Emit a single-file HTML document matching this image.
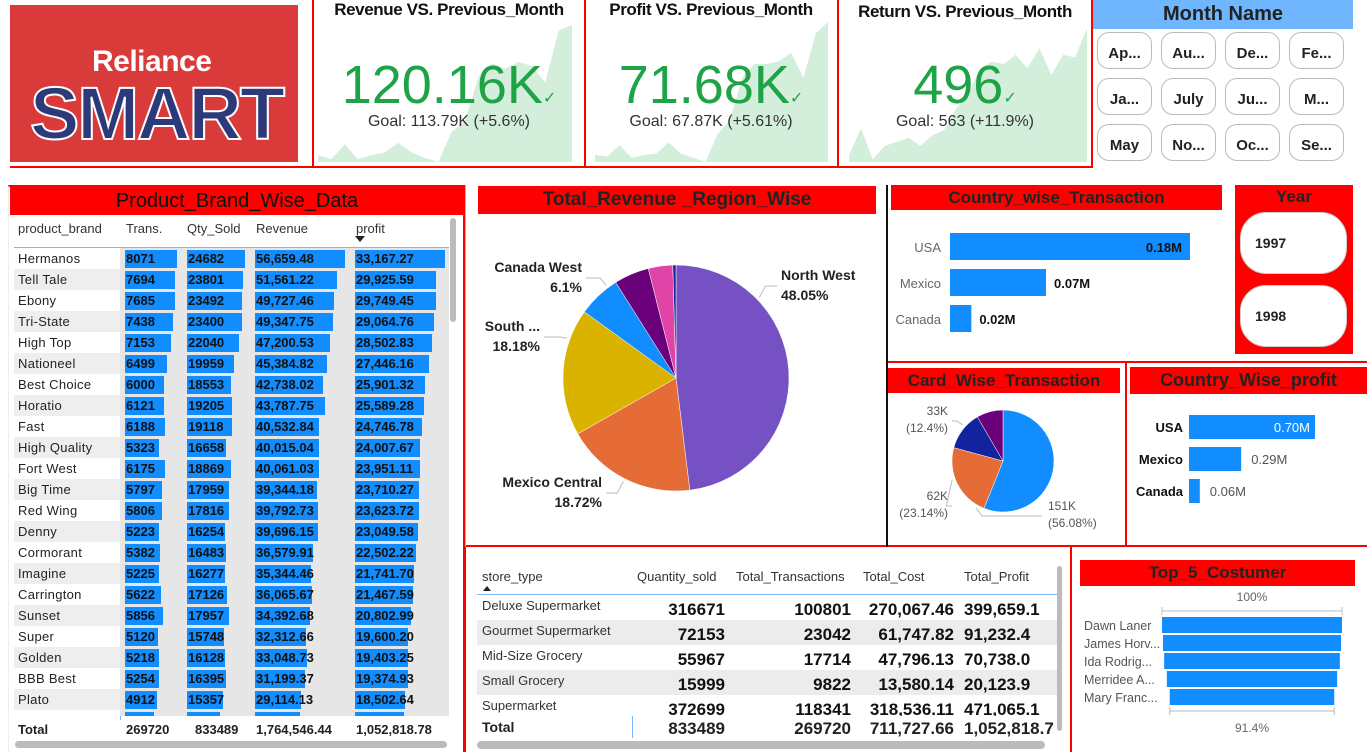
<!DOCTYPE html>
<html><head><meta charset="utf-8">
<style>
*{box-sizing:border-box;margin:0;padding:0}
body{width:1367px;height:752px;overflow:hidden;background:#fff;font-family:"Liberation Sans",sans-serif;position:relative;color:#222}
.a{position:absolute}
.title{position:absolute;background:#f00;color:#222;font-family:"Liberation Sans Narrow","Liberation Sans",sans-serif;font-weight:bold;text-align:center;white-space:nowrap}
.rl{position:absolute;background:#f00}
.kt{position:absolute;font-weight:bold;font-size:17px;letter-spacing:-0.4px;color:#111;white-space:nowrap;text-align:center}
.kv{position:absolute;color:#1ea447;font-size:54px;text-align:center;white-space:nowrap}
.kg{position:absolute;font-size:16px;color:#333;text-align:center;white-space:nowrap}
.mb{position:absolute;width:55px;height:37px;border:1px solid #bbb;border-radius:12px;background:#fff;font-weight:bold;font-size:15px;text-align:center;line-height:42px}
.cell{position:absolute;font-size:13px;white-space:nowrap}
</style></head><body>

<!-- logo -->
<div class="a" style="left:10px;top:5px;width:288px;height:157px;background:#d93a3a">
  <div class="a" style="left:82px;top:40px;color:#fff;font-weight:bold;font-size:30px;letter-spacing:-0.5px">Reliance</div>
  <div class="a" style="left:20px;top:66px;color:#2c3a7a;font-weight:bold;font-size:74px;letter-spacing:-2px;-webkit-text-stroke:2px #fff">SMART</div>
</div>

<!-- KPI frame lines -->
<div class="rl" style="left:10px;top:166px;width:1082px;height:2px"></div>
<div class="rl" style="left:312px;top:0;width:2px;height:168px"></div>
<div class="rl" style="left:584px;top:0;width:2px;height:168px"></div>
<div class="rl" style="left:837px;top:0;width:2px;height:168px"></div>
<div class="rl" style="left:1091px;top:0;width:2px;height:168px"></div>

<svg class="a" style="left:0;top:0" width="1367" height="170" id="spark"></svg>

<div class="kt" style="left:316px;top:0;width:266px">Revenue VS. Previous_Month</div>
<div class="kv" style="left:316px;top:54px;width:266px">120.16K<span style="font-size:16px">✓</span></div>
<div class="kg" style="left:316px;top:113px;width:266px">Goal: 113.79K (+5.6%)</div>

<div class="kt" style="left:588px;top:0;width:246px">Profit VS. Previous_Month</div>
<div class="kv" style="left:588px;top:54px;width:246px">71.68K<span style="font-size:16px">✓</span></div>
<div class="kg" style="left:588px;top:113px;width:246px">Goal: 67.87K (+5.61%)</div>

<div class="kt" style="left:841px;top:2px;width:248px">Return VS. Previous_Month</div>
<div class="kv" style="left:841px;top:54px;width:248px">496<span style="font-size:16px">✓</span></div>
<div class="kg" style="left:841px;top:113px;width:248px">Goal: 563 (+11.9%)</div>

<!-- month slicer -->
<div class="a" style="left:1093px;top:0;width:260px;height:29px;background:#6fb6ff;text-align:center;font-weight:bold;font-size:20px;line-height:29px;font-family:'Liberation Sans Narrow','Liberation Sans',sans-serif">Month Name</div>
<div id="months"></div>

<!-- product brand table -->
<div class="a" style="left:8px;top:185px;width:457px;height:567px;border:2px solid #f00;border-bottom:none;border-left:1px solid #eee"></div>
<div class="title" style="left:10px;top:187px;width:454px;height:28px;font-size:20px;line-height:28px;font-weight:normal;font-family:'Liberation Sans',sans-serif;color:#111">Product_Brand_Wise_Data</div>
<div id="brandtable"></div>

<!-- region pie -->
<div class="title" style="left:478px;top:186px;width:398px;height:28px;font-size:19px;line-height:28px">Total_Revenue _Region_Wise</div>
<div class="rl" style="left:465px;top:185px;width:1px;height:362px;background:#f99"></div>
<svg class="a" id="regionpie" style="left:466px;top:215px" width="420" height="330"></svg>
<div class="rl" style="left:466px;top:545px;width:901px;height:2px"></div>

<!-- country transaction -->
<div class="a" style="left:886px;top:185px;width:2px;height:362px;background:#111"></div>
<div class="title" style="left:891px;top:185px;width:331px;height:25px;font-size:17px;line-height:25px">Country_wise_Transaction</div>
<svg class="a" id="countrytx" style="left:888px;top:215px" width="345" height="140"></svg>

<!-- year slicer -->
<div class="a" style="left:1235px;top:185px;width:118px;height:169px;background:#f00">
  <div class="a" style="left:0;top:2px;width:118px;text-align:center;font-weight:bold;font-size:17px;font-family:'Liberation Sans Narrow','Liberation Sans',sans-serif">Year</div>
  <div class="a" style="left:5px;top:27px;width:107px;height:62px;border-radius:26px;background:#fff;border:1px solid #ccc;font-weight:bold;font-size:14px;line-height:60px;padding-left:14px">1997</div>
  <div class="a" style="left:5px;top:100px;width:107px;height:62px;border-radius:26px;background:#fff;border:1px solid #ccc;font-weight:bold;font-size:14px;line-height:60px;padding-left:14px">1998</div>
</div>

<div class="rl" style="left:888px;top:361px;width:479px;height:2px"></div>
<div class="rl" style="left:1125px;top:361px;width:2px;height:186px"></div>

<!-- card wise -->
<div class="title" style="left:888px;top:368px;width:232px;height:25px;font-size:17px;line-height:25px">Card_Wise_Transaction</div>
<svg class="a" id="cardpie" style="left:888px;top:395px" width="236" height="150"></svg>

<!-- country profit -->
<div class="title" style="left:1130px;top:367px;width:237px;height:27px;font-size:18px;line-height:27px">Country_Wise_profit</div>
<svg class="a" id="countryprofit" style="left:1127px;top:400px" width="240" height="120"></svg>

<!-- store table -->
<div class="rl" style="left:464px;top:547px;width:2px;height:205px"></div>
<div class="rl" style="left:1070px;top:547px;width:2px;height:205px"></div>
<div id="storetable"></div>

<!-- top 5 -->
<div class="title" style="left:1080px;top:560px;width:275px;height:26px;font-size:17px;line-height:26px">Top_5_Costumer</div>
<svg class="a" id="top5" style="left:1072px;top:586px" width="295" height="166"></svg>

<script>
// ---------- data ----------
const revSpark=[0.05,0.02,0.13,0.02,0.05,0.07,0.14,0.07,0.03,0.0,0.22,0.3,0.62,0.72,0.68,0.73,0.7,0.58,0.96,1.0];
const profSpark=[0.05,0.04,0.12,0.03,0.05,0.06,0.14,0.06,0.03,0.0,0.2,0.3,0.6,0.7,0.7,0.72,0.78,0.6,0.92,1.0];
const retSpark=[0.05,0.25,0.02,0.12,0.15,0.18,0.12,0.2,0.24,0.4,0.5,0.7,0.75,0.73,0.8,0.7,0.85,0.65,0.8,0.78,1.0];
const months=["Ap...","Au...","De...","Fe...","Ja...","July","Ju...","M...","May","No...","Oc...","Se..."];
const brands=["Hermanos","Tell Tale","Ebony","Tri-State","High Top","Nationeel","Best Choice","Horatio","Fast","High Quality","Fort West","Big Time","Red Wing","Denny","Cormorant","Imagine","Carrington","Sunset","Super","Golden","BBB Best","Plato","CDR"];
const trans=[8071,7694,7685,7438,7153,6499,6000,6121,6188,5323,6175,5797,5806,5223,5382,5225,5622,5856,5120,5218,5254,4912,4574];
const qty=[24682,23801,23492,23400,22040,19959,18553,19205,19118,16658,18869,17959,17816,16254,16483,16277,17126,17957,15748,16128,16395,15357,13962];
const revenue=[56659.48,51561.22,49727.46,49347.75,47200.53,45384.82,42738.02,43787.75,40532.84,40015.04,40061.03,39344.18,39792.73,39696.15,36579.91,35344.46,36065.67,34392.68,32312.66,33048.73,31199.37,29114.13,28585.50];
const profit=[33167.27,29925.59,29749.45,29064.76,28502.83,27446.16,25901.32,25589.28,24746.78,24007.67,23951.11,23710.27,23623.72,23049.58,22502.22,21741.70,21467.59,20802.99,19600.20,19403.25,19374.93,18502.64,18007.01];
const regionNames=["North West","Mexico Central","South ...","Canada West","Other A","Other B","Other C"];
const regionPct=[48.05,18.72,18.18,6.1,5.0,3.5,0.45];
const cardLabels=["151K","62K","33K",""];
const cardPct=[56.08,23.14,12.4,8.38];
const countries=["USA","Mexico","Canada"];
const countryTx=[0.18,0.072,0.016];
const countryTxLbl=["0.18M","0.07M","0.02M"];
const countryProfit=[0.70,0.29,0.06];
const countryProfitLbl=["0.70M","0.29M","0.06M"];
const storeTypes=["Deluxe Supermarket","Gourmet Supermarket","Mid-Size Grocery","Small Grocery","Supermarket"];
const storeQty=["316671","72153","55967","15999","372699"];
const storeTx=["100801","23042","17714","9822","118341"];
const storeCost=["270,067.46","61,747.82","47,796.13","13,580.14","318,536.11"];
const storeProfit=["399,659.1","91,232.4","70,738.0","20,123.9","471,065.1"];
const customers=["Dawn Laner","James Horv...","Ida Rodrig...","Merridee A...","Mary Franc..."];
const custPct=[100,98.9,97.6,94.6,91.4];

const NS="http://www.w3.org/2000/svg";
function sv(tag,attrs,parent){const e=document.createElementNS(NS,tag);for(const k in attrs)e.setAttribute(k,attrs[k]);parent.appendChild(e);return e;}
function fmt(v){return v.toLocaleString("en-US",{minimumFractionDigits:2,maximumFractionDigits:2});}

// sparklines
const sp=document.getElementById('spark');
function spark(data,x0,x1,base,top){
  const n=data.length;let d=`M${x0},${base}`;
  data.forEach((v,i)=>{d+=` L${x0+(x1-x0)*i/(n-1)},${base-(base-top)*v}`;});
  d+=` L${x1},${base} Z`;
  const p=sv('path',{d:d,fill:'#d3eedb'},sp);
  
  
}
spark(revSpark,318,572,162,25);
spark(profSpark,595,828,162,22);
spark(retSpark,849,1087,162,28);

// months
const mc=document.getElementById('months');
months.forEach((m,i)=>{const b=document.createElement('div');b.className='mb';
  b.style.left=(1097+(i%4)*64)+'px';b.style.top=(32+Math.floor(i/4)*46)+'px';b.textContent=m;
  
  
  mc.appendChild(b);});

// brand table
const bt=document.getElementById('brandtable');
function cell(parent,txt,l,t,st){const c=document.createElement('div');c.className='cell';c.style.left=l+'px';c.style.top=t+'px';c.textContent=txt;if(st)c.style.cssText+=st;parent.appendChild(c);return c;}
const hdr=[["product_brand",18],["Trans.",126],["Qty_Sold",187],["Revenue",256],["profit",356]];
hdr.forEach(h=>{const c=cell(bt,h[0],h[1],221,'color:#333');});
const arr=document.createElement('div');arr.className='a';arr.style.cssText='left:355px;top:236px;width:0;height:0;border-left:5px solid transparent;border-right:5px solid transparent;border-top:6px solid #222';bt.appendChild(arr);
const hl=document.createElement('div');hl.className='a';hl.style.cssText='left:14px;top:247px;width:435px;height:1px;background:#7cb8ff';bt.appendChild(hl);
const vl=document.createElement('div');vl.className='a';vl.style.cssText='left:120px;top:247px;width:1px;height:493px;background:#7cb8ff';bt.appendChild(vl);
const clip=document.createElement('div');clip.className='a';clip.style.cssText='left:14px;top:248px;width:435px;height:468px;overflow:hidden';bt.appendChild(clip);
const cols=[[trans,125,52,v=>String(v)],[qty,187,58,v=>String(v)],[revenue,255,90,fmt],[profit,355,90,fmt]];
brands.forEach((b,i)=>{
  const y=i*21;
  const row=document.createElement('div');row.className='a';row.style.cssText=`left:0;top:${y}px;width:435px;height:21px;background:${i%2?'#eee':'#fff'}`;
  clip.appendChild(row);
  const gb=document.createElement('div');gb.className='a';gb.style.cssText=`left:106px;top:${y}px;width:329px;height:21px;background:#e6e6e6`;clip.appendChild(gb);
  cell(clip,b,4,y+3,'font-size:13px;letter-spacing:0.3px');
  cols.forEach(c=>{const data=c[0];const max=Math.max(...data);
    const bar=document.createElement('div');bar.className='a';
    bar.style.cssText=`left:${c[1]-14}px;top:${y+2}px;width:${data[i]/max*c[2]}px;height:18px;background:#118dff`;
    clip.appendChild(bar);
    cell(clip,c[3](data[i]),c[1]-13,y+3,'font-weight:bold;color:#111');});
});
const tot=document.createElement('div');tot.className='a';tot.style.cssText='left:14px;top:720px;width:435px;height:21px;background:#fff';bt.appendChild(tot);
[["Total",18],["269720",126],["833489",195],["1,764,546.44",256],["1,052,818.78",356]].forEach(t=>{const c=cell(bt,t[0],t[1],722,'font-weight:bold');});
const vs=document.createElement('div');vs.className='a';vs.style.cssText='left:450px;top:218px;width:6px;height:104px;background:#bbb;border-radius:3px';bt.appendChild(vs);
const hs=document.createElement('div');hs.className='a';hs.style.cssText='left:15px;top:741px;width:432px;height:7px;background:#bbb;border-radius:4px';bt.appendChild(hs);

// pie helper
function pie(svg,vals,colors,cx,cy,r,name){
  const tot=vals.reduce((a,b)=>a+b,0);let a=-Math.PI/2;
  vals.forEach((v,i)=>{const a2=a+v/tot*2*Math.PI;
    const large=(a2-a)>Math.PI?1:0;
    const d=`M${cx},${cy} L${cx+r*Math.cos(a)},${cy+r*Math.sin(a)} A${r},${r} 0 ${large} 1 ${cx+r*Math.cos(a2)},${cy+r*Math.sin(a2)} Z`;
    const p=sv('path',{d:d,fill:colors[i],stroke:'#fff','stroke-width':0.5},svg);
    
    
    a=a2;});
}
function leader(svg,cx,cy,r,deg,lx,ly){
  const a=deg*Math.PI/180;const ex=cx+(r+3)*Math.cos(a),ey=cy+(r+3)*Math.sin(a);
  const bx=ex+(lx>ex?6:-6);
  sv('polyline',{points:`${ex},${ey} ${bx},${ly} ${lx},${ly}`,fill:'none',stroke:'#bbb'},svg);
}
const rp=document.getElementById('regionpie');
const rcx=210,rcy=163,rr=113;
pie(rp,regionPct,['#7651c3','#e56c37','#d9b300','#118dff','#6b007b','#e044a7','#12239e'],rcx,rcy,rr,'region');
// [index, text x, text y, anchor, leader angle, leader end x]
const rlab=[[0,315,65,'start',-44,311],[1,136,272,'end',117,140],[2,74,116,'end',200,78],[3,116,57,'end',233,120]];
rlab.forEach(l=>{const i=l[0];const g=sv('g',{},rp);
  
  
  const t=sv('text',{x:l[1],y:l[2],'text-anchor':l[3],'font-size':14,'font-weight':'bold',fill:'#222'},g);t.textContent=regionNames[i];
  const t2=sv('text',{x:l[1],y:l[2]+20,'text-anchor':l[3],'font-size':14,fill:'#222','font-weight':'bold'},g);t2.textContent=regionPct[i]+'%';
  leader(g,rcx,rcy,rr,l[4],l[5],l[2]+6);
});

// country transaction bars
const ct=document.getElementById('countrytx');
const ctScale=240/Math.max(...countryTx);
countries.forEach((c,i)=>{const y=18+i*36;
  const t=sv('text',{x:53,y:y+19,'text-anchor':'end','font-size':13,fill:'#666'},ct);t.textContent=c;
  const r=sv('rect',{x:62,y:y,width:countryTx[i]*ctScale,height:27,fill:'#118dff'},ct);
  
  
  const w=countryTx[i]*ctScale;const inside=w>150;
  const l=sv('text',{x:inside?62+w-8:62+w+8,y:y+19,'text-anchor':inside?'end':'start','font-size':13,'font-weight':'bold',fill:'#111'},ct);l.textContent=countryTxLbl[i];
});

// card pie
const cp=document.getElementById('cardpie');
const ccx=115,ccy=66,cr=51;
pie(cp,cardPct,['#118dff','#e56c37','#12239e','#6b007b'],ccx,ccy,cr,'card');
const clab=[[0,160,115,'start',120,154],[1,60,105,'end',160,64],[2,60,20,'end',222,64]];
clab.forEach(l=>{const i=l[0];const g=sv('g',{},cp);
  
  
  const t=sv('text',{x:l[1],y:l[2],'text-anchor':l[3],'font-size':12,fill:'#555'},g);t.textContent=cardLabels[i];
  const t2=sv('text',{x:l[1],y:l[2]+17,'text-anchor':l[3],'font-size':12,fill:'#555'},g);t2.textContent='('+cardPct[i]+'%)';
  leader(g,ccx,ccy,cr,l[4],l[5],l[2]+6);
});

// country profit bars
const cpr=document.getElementById('countryprofit');
const cpScale=126/Math.max(...countryProfit);
countries.forEach((c,i)=>{const y=15+i*32;
  const t=sv('text',{x:56,y:y+17,'text-anchor':'end','font-size':13,'font-weight':'bold',fill:'#111'},cpr);t.textContent=c;
  const w=countryProfit[i]*cpScale;
  const r=sv('rect',{x:62,y:y,width:w,height:24,fill:'#118dff'},cpr);
  
  
  const inside=w>90;
  const l=sv('text',{x:inside?62+w-5:62+w+10,y:y+17,'text-anchor':inside?'end':'start','font-size':13,fill:inside?'#fff':'#555'},cpr);l.textContent=countryProfitLbl[i];
});

// store table
const st=document.getElementById('storetable');
const sh=[["store_type",482],["Quantity_sold",637],["Total_Transactions",736],["Total_Cost",863],["Total_Profit",964]];
sh.forEach(h=>{const c=cell(st,h[0],h[1],569,'color:#333');});
const sarr=document.createElement('div');sarr.className='a';sarr.style.cssText='left:483px;top:586px;border-left:4px solid transparent;border-right:4px solid transparent;border-bottom:5px solid #222';st.appendChild(sarr);
const shl=document.createElement('div');shl.className='a';shl.style.cssText='left:477px;top:594px;width:582px;height:1px;background:#7cb8ff';st.appendChild(shl);
const svl=document.createElement('div');svl.className='a';svl.style.cssText='left:632px;top:594px;width:1px;height:144px;background:#7cb8ff';st.appendChild(svl);
const sclip=document.createElement('div');sclip.className='a';sclip.style.cssText='left:477px;top:595px;width:581px;height:121px;overflow:hidden';st.appendChild(sclip);
storeTypes.forEach((s,i)=>{const y=i*25;
  const row=document.createElement('div');row.className='a';row.style.cssText=`left:0;top:${y}px;width:581px;height:25px;background:${i%2?'#ececec':'#fff'}`;
  sclip.appendChild(row);
  cell(sclip,s,5,y+3,'font-size:13px;color:#333');
  [[storeQty,248],[storeTx,374],[storeCost,477]].forEach(c=>{cell(sclip,c[0][i],0,y+5,'font-size:17px;font-weight:bold;color:#111;width:'+c[1]+'px;text-align:right');});
  cell(sclip,storeProfit[i],487,y+5,'font-size:17px;font-weight:bold;color:#111');
});
[["Total",482,'left'],["833489",725,'r'],["269720",851,'r'],["711,727.66",954,'r'],["1,052,818.7",964,'left']].forEach(t=>{
  let c;if(t[2]=='r')c=cell(st,t[0],0,719,'font-size:17px;font-weight:bold;width:'+t[1]+'px;text-align:right');
  else c=cell(st,t[0],t[1],719,t[0]=='Total'?'font-size:14px;font-weight:bold':'font-size:17px;font-weight:bold');
  });
const svs=document.createElement('div');svs.className='a';svs.style.cssText='left:1057px;top:566px;width:5px;height:165px;background:#bbb;border-radius:3px';st.appendChild(svs);
const shs=document.createElement('div');shs.className='a';shs.style.cssText='left:477px;top:741px;width:568px;height:8px;background:#bbb;border-radius:4px';st.appendChild(shs);

// top 5 funnel
const tf=document.getElementById('top5');
const fmid=180,fmaxW=180;
const t100=sv('text',{x:fmid,y:15,'text-anchor':'middle','font-size':12,fill:'#666'},tf);t100.textContent='100%';
sv('line',{x1:fmid-fmaxW/2,y1:25,x2:fmid+fmaxW/2,y2:25,stroke:'#bbb'},tf);
sv('line',{x1:fmid-fmaxW/2,y1:21,x2:fmid-fmaxW/2,y2:29,stroke:'#bbb'},tf);
sv('line',{x1:fmid+fmaxW/2,y1:21,x2:fmid+fmaxW/2,y2:29,stroke:'#bbb'},tf);
customers.forEach((c,i)=>{const y=31+i*18;const w=custPct[i]/100*fmaxW;
  const r=sv('rect',{x:fmid-w/2,y:y,width:w,height:16,fill:'#118dff'},tf);
  
  
  const t=sv('text',{x:12,y:y+13,'font-size':12.5,fill:'#555'},tf);t.textContent=c;});
const lw=custPct[custPct.length-1]/100*fmaxW;
sv('line',{x1:fmid-lw/2,y1:125,x2:fmid+lw/2,y2:125,stroke:'#bbb'},tf);
sv('line',{x1:fmid-lw/2,y1:121,x2:fmid-lw/2,y2:129,stroke:'#bbb'},tf);
sv('line',{x1:fmid+lw/2,y1:121,x2:fmid+lw/2,y2:129,stroke:'#bbb'},tf);
const tb=sv('text',{x:fmid,y:146,'text-anchor':'middle','font-size':12,fill:'#666'},tf);tb.textContent=custPct[custPct.length-1]+'%';
</script>
</body></html>
